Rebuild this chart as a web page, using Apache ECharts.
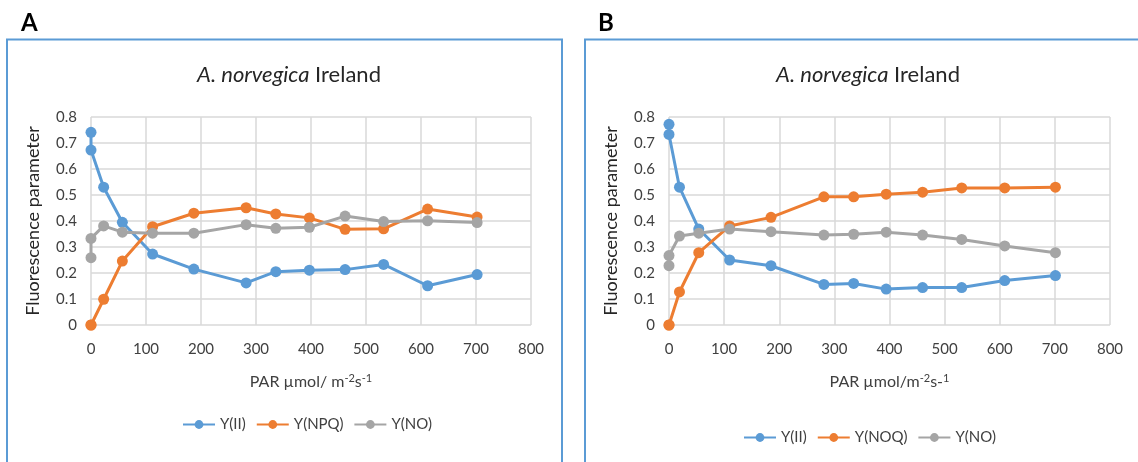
<!DOCTYPE html>
<html>
<head>
<meta charset="utf-8">
<script src="https://cdn.jsdelivr.net/npm/echarts@6/dist/echarts.min.js"></script>
<style>
html,body{margin:0;padding:0;background:#fff;}
#c{width:1138px;height:462px;}
</style>
</head>
<body>
<div id="c"></div>
<script>
// Panel A data
const parA   = [0, 0, 23, 57, 112, 187, 282, 336, 397, 462, 532, 612, 702];
const yIIA   = [0.741, 0.673, 0.530, 0.395, 0.273, 0.215, 0.162, 0.205, 0.211, 0.213, 0.233, 0.151, 0.194];
const yNPQA  = [0, 0, 0.099, 0.246, 0.378, 0.430, 0.451, 0.427, 0.412, 0.368, 0.370, 0.446, 0.415];
const yNOA   = [0.259, 0.333, 0.381, 0.357, 0.353, 0.353, 0.386, 0.372, 0.376, 0.419, 0.398, 0.401, 0.394];
// Panel B data
const parB   = [0, 0, 19, 54, 110, 185, 281, 335, 394, 460, 531, 609, 701];
const yIIB   = [0.772, 0.733, 0.530, 0.369, 0.250, 0.228, 0.156, 0.160, 0.138, 0.144, 0.144, 0.171, 0.190];
const yNOQB  = [0, 0, 0.127, 0.278, 0.381, 0.414, 0.493, 0.493, 0.503, 0.511, 0.527, 0.527, 0.530];
const yNOB   = [0.228, 0.267, 0.342, 0.353, 0.369, 0.359, 0.346, 0.349, 0.357, 0.346, 0.329, 0.304, 0.278];

const seriesNamesA = ['Y(II)', 'Y(NPQ)', 'Y(NO)'];
const seriesNamesB = ['Y(II)', 'Y(NOQ)', 'Y(NO)'];
const titleText = 'A. norvegica';
const titleRest = ' Ireland';
const xTicks = {min: 0, max: 800, interval: 100};
const yTicks = {min: 0, max: 0.8, interval: 0.1};

const COLORS = ['#5b9bd5', '#ed7d31', '#a5a5a5'];
const FONT = 'Lato, "Open Sans", sans-serif';
const GRID = '#d9d9d9';
const TXT = '#404040';

function pairs(xs, ys){ return xs.map((x, i) => [x, ys[i]]); }

function xAxis(idx, nameRich){
  return {
    type: 'value', gridIndex: idx,
    min: xTicks.min, max: xTicks.max, interval: xTicks.interval,
    axisLine: {show: false}, axisTick: {show: false},
    axisLabel: {color: TXT, fontFamily: FONT, fontSize: 15, margin: 17},
    splitLine: {show: true, lineStyle: {color: GRID, width: 1.5}},
    name: nameRich, nameLocation: 'middle', nameGap: 57,
    nameTextStyle: {
      color: TXT, fontFamily: FONT, fontSize: 16, verticalAlign: 'middle',
      rich: {sup: {fontSize: 11, verticalAlign: 'top', padding: [0,0,8,0], color: TXT, fontFamily: FONT}}
    }
  };
}
function yAxis(idx){
  return {
    type: 'value', gridIndex: idx,
    min: yTicks.min, max: yTicks.max, interval: yTicks.interval,
    axisLine: {show: false}, axisTick: {show: false},
    axisLabel: {color: TXT, fontFamily: FONT, fontSize: 15, margin: 14},
    splitLine: {show: true, lineStyle: {color: GRID, width: 1.5}},
    name: 'Fluorescence parameter', nameLocation: 'middle', nameGap: 58,
    nameTextStyle: {color: '#262626', fontFamily: FONT, fontSize: 18, verticalAlign: 'middle'}
  };
}
function line(name, xs, ys, idx, color){
  return {
    name: name, type: 'line', xAxisIndex: idx, yAxisIndex: idx,
    data: pairs(xs, ys),
    symbol: 'circle', symbolSize: 11,
    lineStyle: {width: 3, color: color},
    itemStyle: {color: color},
    color: color,
    emphasis: {disabled: true},
    animation: false
  };
}

const titleStyle = {fontFamily: FONT, fontSize: 22, fontWeight: 'normal', color: '#262626',
  rich: {i: {fontStyle: 'italic', fontFamily: FONT, fontSize: 22, color: '#262626'}}};

const chart = echarts.init(document.getElementById('c'), null, {renderer: 'canvas'});
chart.setOption({
  animation: false,
  title: [
    {text: '{i|' + titleText + '}' + titleRest, left: 284, top: 59, textAlign: 'center', textStyle: titleStyle},
    {text: '{i|' + titleText + '}' + titleRest, left: 863, top: 59, textAlign: 'center', textStyle: titleStyle}
  ],
  legend: [
    {data: seriesNamesA, left: 177, top: 412, itemWidth: 32, itemHeight: 11, itemGap: 10,
     textStyle: {color: TXT, fontFamily: FONT, fontSize: 15}, selectedMode: false},
    {data: seriesNamesB, left: 738, top: 425, itemWidth: 32, itemHeight: 11, itemGap: 10,
     textStyle: {color: TXT, fontFamily: FONT, fontSize: 15}, selectedMode: false}
  ],
  grid: [
    {left: 91, right: 607, top: 117, bottom: 137},
    {left: 669, right: 28, top: 117, bottom: 137}
  ],
  xAxis: [
    xAxis(0, 'PAR µmol/ m{sup|-2}s{sup|-1}'),
    xAxis(1, 'PAR µmol/m{sup|-2}s-{sup|1}')
  ],
  yAxis: [yAxis(0), yAxis(1)],
  series: [
    line(seriesNamesA[0], parA, yIIA, 0, COLORS[0]),
    line(seriesNamesA[1], parA, yNPQA, 0, COLORS[1]),
    line(seriesNamesA[2], parA, yNOA, 0, COLORS[2]),
    line(seriesNamesB[0], parB, yIIB, 1, COLORS[0]),
    line(seriesNamesB[1], parB, yNOQB, 1, COLORS[1]),
    line(seriesNamesB[2], parB, yNOB, 1, COLORS[2])
  ],
  graphic: [
    {type: 'rect', shape: {x: 7, y: 39.5, width: 555, height: 440}, style: {fill: 'none', stroke: '#5b9bd5', lineWidth: 2}, silent: true, z: -1},
    {type: 'rect', shape: {x: 585, y: 39.5, width: 570, height: 440}, style: {fill: 'none', stroke: '#5b9bd5', lineWidth: 2}, silent: true, z: -1},
    {type: 'text', left: 21, top: 11, style: {text: 'A', font: 'bold 24px ' + FONT, fill: '#000'}, silent: true},
    {type: 'text', left: 598, top: 11, style: {text: 'B', font: 'bold 24px ' + FONT, fill: '#000'}, silent: true}
  ]
});
</script>
</body>
</html>
